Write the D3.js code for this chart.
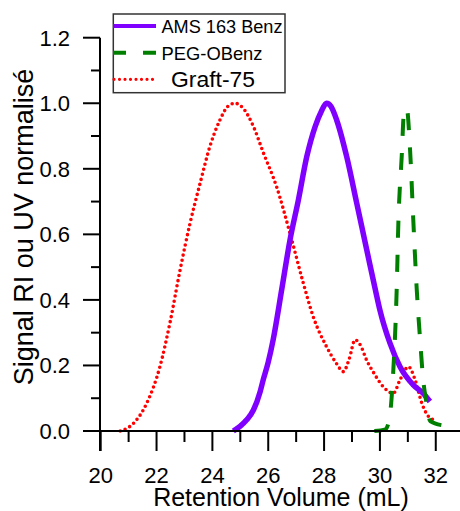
<!DOCTYPE html>
<html><head><meta charset="utf-8">
<script src="https://cdn.jsdelivr.net/npm/d3@7"></script>
<style>html,body{margin:0;padding:0;background:#fff;}svg{display:block;font-family:"Liberation Sans",Arial,sans-serif;}</style>
</head><body>
<svg id="c" width="460" height="511"></svg>
<script>
const amsX = [24.75,25.0,25.23,25.47,25.71,25.82,26.0,26.18,26.48,26.78,27.08,27.38,27.68,27.9,28.09,28.25,28.45,28.81,29.17,29.53,29.89,30.0,30.36,30.72,31.2,31.55,31.79];
const amsY = [0.0,0.015,0.034,0.064,0.12,0.156,0.21,0.28,0.43,0.583,0.705,0.837,0.929,0.975,1.0,0.99,0.949,0.837,0.695,0.552,0.41,0.369,0.268,0.196,0.14,0.115,0.09];
const pegX = [29.8,30.2,30.36,30.48,30.6,30.66,30.78,30.86,30.96,31.08,31.2,31.32,31.44,31.55,31.67,31.8,32.2];
const pegY = [0.0,0.005,0.05,0.186,0.43,0.634,0.837,0.97,0.985,0.857,0.634,0.43,0.278,0.156,0.085,0.03,0.018];
const graftX = [20.7,21.17,21.65,22.12,22.48,22.84,23.2,23.56,23.91,24.27,24.55,24.81,25.1,25.47,25.82,26.3,26.78,27.26,27.61,28.09,28.45,28.69,28.9,29.11,29.3,29.53,29.76,30.12,30.48,30.72,31.02,31.26,31.5,31.8,31.9];
const graftY = [0.0,0.023,0.085,0.196,0.33,0.49,0.634,0.756,0.868,0.949,0.99,1.0,0.985,0.929,0.85,0.745,0.603,0.45,0.349,0.257,0.205,0.181,0.22,0.278,0.262,0.215,0.18,0.135,0.115,0.156,0.196,0.156,0.085,0.039,0.035];
const xTicks = [20,22,24,26,28,30,32];
const xMinor = [21,23,25,27,29,31];
const yTicks = [0.0,0.2,0.4,0.6,0.8,1.0,1.2];
const yMinor = [0.1,0.3,0.5,0.7,0.9,1.1];
const seriesNames = ["AMS 163 Benz","PEG-OBenz","Graft-75"];
const xTitle = "Retention Volume (mL)";
const yTitle = "Signal RI ou UV normalisé";

const svg = d3.select("#c");
const x = d3.scaleLinear().domain([20,32.9]).range([100.7,460.9]);
const y = d3.scaleLinear().domain([0,1.2]).range([431,37.7]);
const axisX0 = 100;

// curves
const line = d3.line().x(d=>x(d[0])).y(d=>y(d[1])).curve(d3.curveMonotoneX);
const zip = (a,b)=>a.map((v,i)=>[v,b[i]]);
svg.append("path").attr("d",line(zip(graftX,graftY))).attr("fill","none")
  .attr("stroke","#ff0000").attr("stroke-width",3.6).attr("stroke-linecap","round").attr("stroke-dasharray","0,5.2");
svg.append("path").attr("d",line(zip(amsX,amsY))).attr("fill","none")
  .attr("stroke","#7f00ff").attr("stroke-width",5.5).attr("stroke-linejoin","round");
svg.append("path").attr("d",line(zip(pegX,pegY))).attr("fill","none")
  .attr("stroke","#007f00").attr("stroke-width",4).attr("stroke-dasharray","17,17");

// axes
const ax = svg.append("g").attr("stroke","#000").attr("stroke-width",2);
ax.append("line").attr("x1",axisX0).attr("x2",axisX0).attr("y1",y(1.2)).attr("y2",451);
ax.append("line").attr("x1",83).attr("x2",460).attr("y1",y(0)).attr("y2",y(0));
xTicks.forEach(t=>ax.append("line").attr("x1",x(t)).attr("x2",x(t)).attr("y1",y(0)).attr("y2",451));
xMinor.forEach(t=>ax.append("line").attr("x1",x(t)).attr("x2",x(t)).attr("y1",y(0)).attr("y2",442));
yTicks.forEach(t=>ax.append("line").attr("x1",83).attr("x2",axisX0).attr("y1",y(t)).attr("y2",y(t)));
yMinor.forEach(t=>ax.append("line").attr("x1",91).attr("x2",axisX0).attr("y1",y(t)).attr("y2",y(t)));

const tl = svg.append("g").attr("fill","#000");
xTicks.forEach(t=>tl.append("text").attr("x",x(t)).attr("y",483).attr("text-anchor","middle").attr("font-size",22).text(t));
yTicks.forEach(t=>tl.append("text").attr("x",70).attr("y",y(t)+8).attr("text-anchor","end").attr("font-size",22).text(d3.format(".1f")(t)));

svg.append("text").attr("x",281).attr("y",506).attr("text-anchor","middle").attr("font-size",25).text(xTitle);
svg.append("text").attr("transform","translate(33,227) rotate(-90)").attr("text-anchor","middle").attr("font-size",27).text(yTitle);

// legend
const lg = svg.append("g");
lg.append("rect").attr("x",113.3).attr("y",14).attr("width",171.7).attr("height",78.7).attr("fill","#fff").attr("stroke","#333").attr("stroke-width",1.5);
const rows = [26,52.7,79.3];
lg.append("line").attr("x1",113).attr("x2",156).attr("y1",rows[0]).attr("y2",rows[0]).attr("stroke","#7f00ff").attr("stroke-width",4);
lg.append("line").attr("x1",113).attr("x2",156).attr("y1",rows[1]).attr("y2",rows[1]).attr("stroke","#007f00").attr("stroke-width",4).attr("stroke-dasharray","13,17");
lg.append("line").attr("x1",114).attr("x2",156).attr("y1",rows[2]).attr("y2",rows[2]).attr("stroke","#ff0000").attr("stroke-width",3.2).attr("stroke-linecap","round").attr("stroke-dasharray","0,5.5");
lg.append("text").attr("x",161.5).attr("y",rows[0]+7).attr("font-size",19).attr("textLength",121).attr("lengthAdjust","spacingAndGlyphs").text(seriesNames[0]);
lg.append("text").attr("x",161.5).attr("y",rows[1]+7).attr("font-size",19).attr("textLength",101).attr("lengthAdjust","spacingAndGlyphs").text(seriesNames[1]);
lg.append("text").attr("x",171).attr("y",rows[2]+8).attr("font-size",22).attr("textLength",84).attr("lengthAdjust","spacingAndGlyphs").text(seriesNames[2]);
</script>
</body></html>
